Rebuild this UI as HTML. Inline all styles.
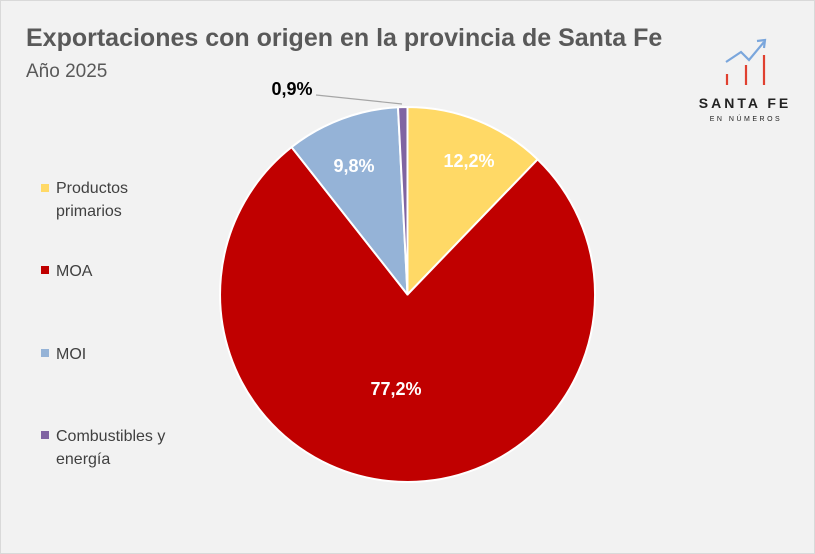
<!DOCTYPE html>
<html><head><meta charset="utf-8"><style>
body{margin:0;background:#f2f2f2;}
svg{display:block;font-family:"Liberation Sans",sans-serif;}
</style></head><body>
<svg width="815" height="554" viewBox="0 0 815 554">
<rect x="0.5" y="0.5" width="814" height="553" fill="#f2f2f2" stroke="#d9d9d9"/>
<text x="26" y="46" font-size="25" font-weight="bold" fill="#595959">Exportaciones con origen en la provincia de Santa Fe</text>
<text x="26" y="77" font-size="19" fill="#595959">Año 2025</text>
<g stroke="#fff" stroke-width="2" stroke-linejoin="round">
<path d="M407.5,294.5 L407.5,107 A187.5,187.5 0 0 1 537.6,159.4 Z" fill="#ffd966"/>
<path d="M407.5,294.5 L537.6,159.4 A187.5,187.5 0 1 1 291.6,147.1 Z" fill="#c00000"/>
<path d="M407.5,294.5 L291.6,147.1 A187.5,187.5 0 0 1 398.0,107.2 Z" fill="#95b3d7"/>
<path d="M407.5,294.5 L398.0,107.2 A187.5,187.5 0 0 1 407.5,107 Z" fill="#8064a2"/>
</g>
<g font-size="18" font-weight="bold" fill="#fff" text-anchor="middle">
<text x="469" y="167">12,2%</text>
<text x="354" y="172">9,8%</text>
<text x="396" y="395">77,2%</text>
</g>
<text x="292" y="95" font-size="18" font-weight="bold" fill="#000" text-anchor="middle">0,9%</text>
<line x1="316" y1="95" x2="402" y2="104" stroke="#a6a6a6" stroke-width="1.2"/>
<g font-size="16" fill="#404040">
<rect x="41" y="184" width="8" height="8" fill="#ffd966"/>
<text x="56" y="193">Productos</text><text x="56" y="216">primarios</text>
<rect x="41" y="266" width="8" height="8" fill="#c00000"/>
<text x="56" y="276">MOA</text>
<rect x="41" y="349" width="8" height="8" fill="#95b3d7"/>
<text x="56" y="359">MOI</text>
<rect x="41" y="431" width="8" height="8" fill="#8064a2"/>
<text x="56" y="441">Combustibles y</text><text x="56" y="464">energía</text>
</g>
<g>
<polyline points="726,62 741,52 749,60 764,42" fill="none" stroke="#7aa6dc" stroke-width="2.2"/>
<polyline points="757,41 765,40 764,48" fill="none" stroke="#7aa6dc" stroke-width="2.2"/>
<line x1="727" y1="74" x2="727" y2="85" stroke="#e04030" stroke-width="2.2"/>
<line x1="746" y1="65" x2="746" y2="85" stroke="#e04030" stroke-width="2.2"/>
<line x1="764" y1="55" x2="764" y2="85" stroke="#e04030" stroke-width="2.2"/>
<text x="745" y="108" font-size="14" font-weight="bold" fill="#222" text-anchor="middle" letter-spacing="3">SANTA FE</text>
<text x="746" y="121" font-size="7" fill="#222" text-anchor="middle" letter-spacing="2.5">EN NÚMEROS</text>
</g>
</svg>
</body></html>
